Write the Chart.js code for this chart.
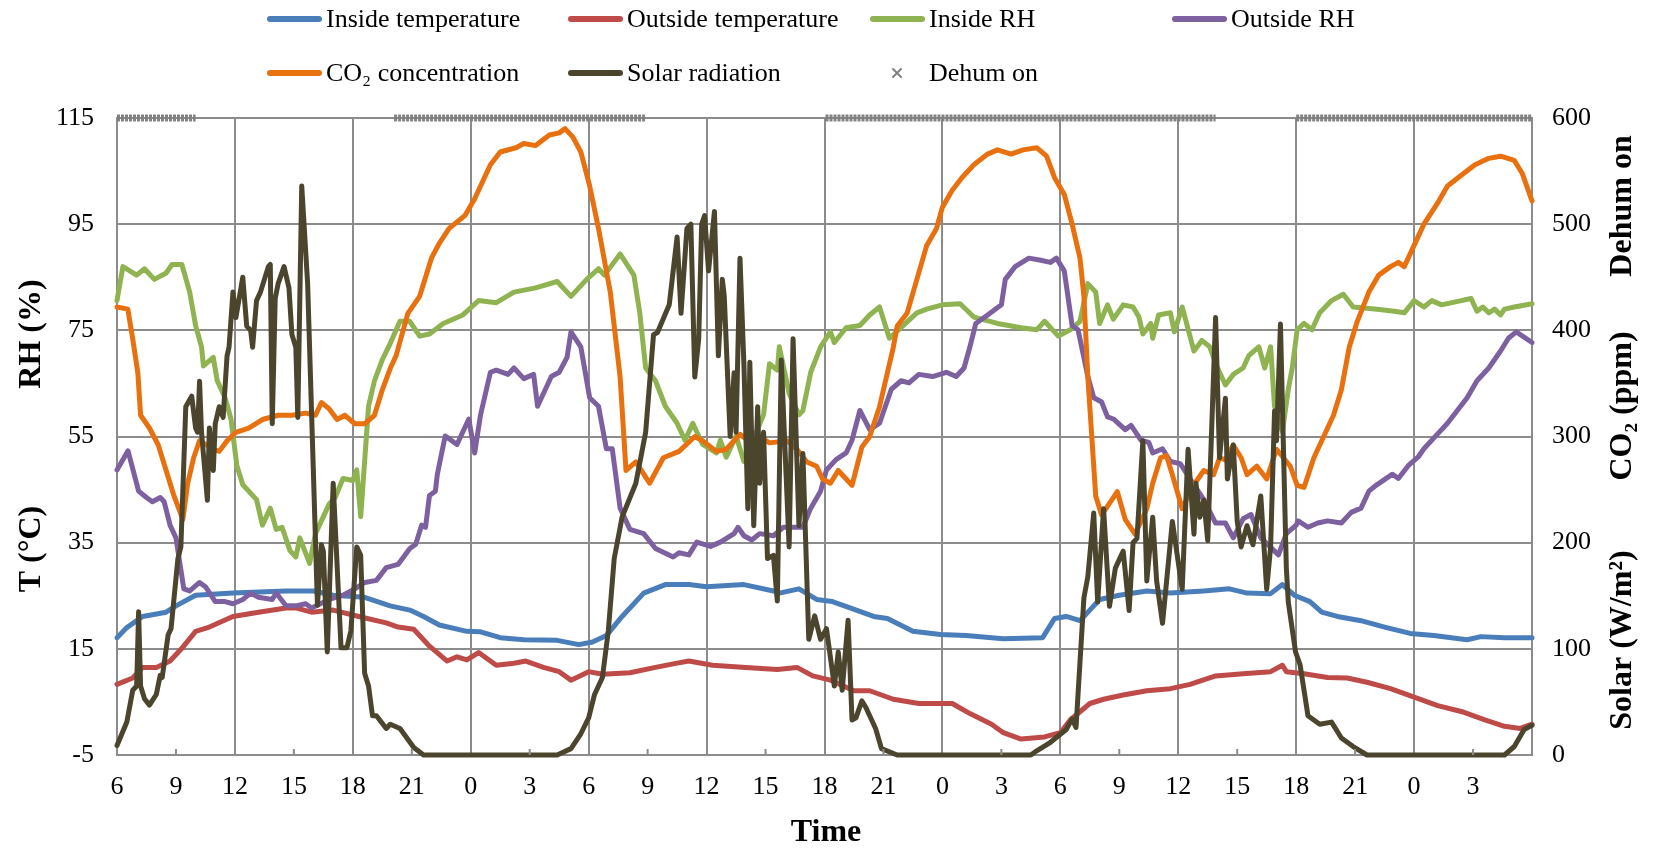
<!DOCTYPE html>
<html>
<head>
<meta charset="utf-8">
<script src="https://cdn.jsdelivr.net/npm/chart.js@4.4.1/dist/chart.umd.min.js"></script>
<style>
  html, body { margin: 0; padding: 0; background: #fff; }
  #wrap { width: 1653px; height: 854px; }
</style>
</head>
<body>
<div id="wrap"><canvas id="chart" width="1653" height="854"></canvas></div>
<script>
// hours since 06:00 on day 1; tick labels are clock hours
const xTickLabels = ['6','9','12','15','18','21','0','3','6','9','12','15','18','21','0','3','6','9','12','15','18','21','0','3'];

const insideTemp = [[0,17.1],[0.5,19],[1.3,21.1],[2.5,21.9],[3,23.1],[4,25.1],[5.9,25.5],[8.6,25.9],[10,25.9],[11,25.1],[12.6,24.7],[13.9,23.1],[14.9,22.3],[15.6,21.1],[16.4,19.5],[17.8,18.3],[18.5,18.2],[19.5,17.1],[20.7,16.7],[22.4,16.6],[23.5,15.8],[24.2,16.3],[24.9,17.5],[25.7,21.1],[26.8,25.5],[27.9,27.1],[29.1,27.1],[30,26.7],[31.9,27.1],[33.4,25.9],[33.7,25.5],[34.7,26.3],[35.6,24.3],[36.4,23.9],[37.3,22.7],[38.5,21.1],[39.2,20.7],[40.5,18.3],[41.9,17.7],[43.2,17.5],[45.1,16.9],[47.1,17.1],[47.7,20.7],[48.3,21.1],[49,20.3],[49.5,22.3],[50,24.3],[51,25.1],[52.4,25.9],[53.6,25.5],[55.3,25.9],[56.6,26.3],[57.5,25.5],[58.7,25.4],[59.3,27.1],[59.9,25.1],[60.7,23.9],[61.3,21.9],[62.1,21.1],[63.3,20.3],[64.5,19.1],[65.8,17.9],[67,17.5],[68.7,16.7],[69.4,17.3],[70.6,17.1],[72,17.1]];

const outsideTemp = [[0,8.3],[0.8,9.5],[1.3,11.5],[2,11.5],[2.7,12.7],[3.3,15.1],[4,18.3],[4.7,19.1],[5.9,21.1],[7.2,21.9],[8.6,22.7],[9.1,22.7],[9.9,21.9],[11,22.3],[12.3,21.1],[13.7,19.9],[14.3,19.1],[15.1,18.7],[15.9,15.5],[16.8,12.7],[17.3,13.5],[17.8,12.9],[18.4,14.3],[19.3,11.9],[20.2,12.3],[20.8,12.7],[21.7,11.5],[22.5,10.7],[23.1,9.1],[24,10.7],[24.7,10.2],[26.1,10.5],[27.4,11.5],[28.5,12.3],[29.1,12.7],[30.3,11.9],[32,11.5],[33.6,11.1],[34.6,11.5],[35.4,9.9],[36.3,9.1],[37.5,7.1],[38.3,7.1],[39.5,5.5],[40.8,4.7],[42.5,4.7],[43.4,2.8],[44.5,0.8],[45.1,-0.8],[46,-2],[47.2,-1.6],[48,-0.8],[48.5,1.6],[49.5,4.7],[50.2,5.5],[51.2,6.3],[52.4,7.1],[53.6,7.5],[54.6,8.3],[55.9,9.9],[57.3,10.3],[58.7,10.7],[59.3,11.9],[59.5,10.7],[60.4,10.3],[61.6,9.6],[62.6,9.5],[63.6,8.7],[64.8,7.5],[66,5.9],[67.2,4.3],[68.4,3.2],[69.6,1.6],[70.6,0.4],[71.4,0],[72,0.8]];

const insideRH = [[0,80.6],[0.3,87],[1,85.4],[1.4,86.6],[1.9,84.6],[2.5,85.8],[2.8,87.4],[3.3,87.4],[3.7,82.2],[4,75.9],[4.3,71.9],[4.4,68.3],[4.9,69.9],[5.1,65.5],[5.5,62.3],[5.8,58.3],[6.1,49.5],[6.4,45.9],[7.1,43.1],[7.4,38.3],[7.8,41.5],[8.1,37.5],[8.4,37.9],[8.8,33.5],[9.1,32.3],[9.3,35.9],[9.8,31.1],[10.1,36.7],[10.8,42.3],[11.1,43.5],[11.5,47.1],[12,46.7],[12.2,48.7],[12.4,39.9],[12.8,60.7],[13.1,65.5],[13.5,69.5],[13.9,72.5],[14.4,76.7],[14.9,76.7],[15.4,73.9],[15.9,74.3],[16.6,76.3],[17.6,77.9],[18.4,80.6],[19.3,80.2],[20.2,82.2],[21.3,83],[22.4,84.2],[23.1,81.4],[23.9,84.6],[24.5,86.6],[24.8,85.4],[25.6,89.4],[26.3,85.4],[26.6,78.3],[26.9,67.9],[27.4,65.5],[27.9,60.7],[28.5,57.5],[28.9,54.3],[29.3,57.5],[29.8,53.5],[30.5,51.9],[30.7,54.3],[31,51.1],[31.5,55.1],[31.9,50.3],[32.9,59.1],[33.2,68.7],[33.6,67.5],[33.7,71.9],[34.2,63.1],[34.7,59.1],[34.9,59.9],[35.3,67.1],[35.8,71.9],[36.3,74.7],[36.5,72.7],[37.1,75.5],[37.8,75.9],[38.3,77.9],[38.8,79.4],[39.3,73.5],[40,75.9],[40.7,78.3],[41.2,79],[42,79.8],[42.9,80],[43.6,77.5],[44.8,76.3],[46,75.5],[46.8,75.1],[47.2,76.7],[47.9,73.9],[48.5,75.1],[49,76.7],[49.4,83.8],[49.8,82.2],[50,76.3],[50.4,79.8],[50.7,77.1],[51.2,79.8],[51.7,79.4],[52,77.5],[52.2,74.3],[52.6,76.3],[52.7,73.5],[53,77.9],[53.6,78.3],[53.8,74.7],[54.2,79.4],[54.8,71.1],[55.2,73.1],[55.6,71.9],[56,67.9],[56.4,64.7],[56.8,66.7],[57.3,67.9],[57.6,70.3],[58.1,71.9],[58.4,67.9],[58.7,71.9],[58.9,60.7],[59.3,55.9],[59.6,63.9],[59.8,67.9],[60.05,75.1],[60.4,76.3],[60.8,75.1],[61.2,78.3],[61.8,80.6],[62.4,81.8],[62.9,79.4],[64,79],[65,78.6],[65.5,78.3],[66,80.6],[66.5,79.4],[66.9,80.6],[67.4,79.8],[68.4,80.6],[68.9,81],[69.2,78.6],[69.5,79.4],[69.8,78.3],[70.1,79],[70.4,77.9],[70.6,79],[71.1,79.4],[72,80]];

const outsideRH = [[0,48.7],[0.56,52.3],[1.1,44.7],[1.5,43.5],[1.8,42.7],[2.2,43.5],[2.4,42.7],[2.7,38.3],[3,35.9],[3.4,26.3],[3.7,25.9],[4.2,27.5],[4.5,26.7],[5,23.9],[5.5,23.9],[5.9,23.5],[6.4,24.3],[6.8,25.5],[7.2,24.7],[7.9,24.3],[8.1,25.5],[8.6,23.1],[9.1,23.1],[9.6,23.5],[9.9,22.7],[10.8,24.3],[11.5,25.1],[12.1,26.3],[12.6,27.5],[13.2,27.9],[13.7,30.3],[14.3,30.9],[14.9,33.9],[15.2,34.7],[15.5,38.3],[15.7,37.9],[15.9,43.9],[16.2,44.7],[16.3,47.9],[16.7,55.1],[17.3,53.5],[17.9,58.3],[18.2,51.9],[18.5,59.1],[19,67.1],[19.3,67.5],[19.9,66.7],[20.2,67.9],[20.7,65.9],[21.2,66.7],[21.4,60.7],[21.8,63.9],[22.1,66.3],[22.5,67.1],[22.9,69.9],[23.1,74.7],[23.6,71.9],[24.05,62.3],[24.5,60.7],[24.9,52.7],[25.2,52.7],[25.6,41.5],[26.1,37.5],[26.8,36.7],[27.4,33.9],[28.3,32.3],[28.6,33.1],[29.1,32.7],[29.5,35.1],[30.2,34.3],[30.7,35.1],[31.4,36.7],[31.6,37.9],[31.9,36.3],[32.3,35.5],[32.7,36.7],[33.4,36.3],[33.9,37.9],[34.9,37.9],[35.3,41.5],[35.8,44.7],[36.1,48.7],[36.6,50.7],[37.1,51.9],[37.4,54.3],[37.8,59.9],[38.3,56.3],[38.8,57.5],[39.4,63.9],[39.9,65.5],[40.3,65.1],[40.8,66.7],[41.5,66.3],[42.2,67.1],[42.7,66.3],[43.1,67.9],[43.4,71.9],[43.7,76.3],[44.3,77.9],[45,79.8],[45.2,84.6],[45.7,87],[46.4,88.6],[47,88.2],[47.5,87.8],[47.8,88.6],[48.2,86.2],[48.6,75.9],[48.9,75.1],[49.4,66.3],[49.7,62.3],[50.1,61.5],[50.4,58.7],[50.7,58.3],[51.3,56.3],[51.6,57.1],[52.1,54.3],[52.5,53.9],[52.7,51.9],[53.2,52.7],[53.6,50.3],[54.1,49.9],[54.8,45.9],[55.3,43.1],[55.9,38.7],[56.4,38.7],[56.8,35.9],[57.3,39.5],[57.7,40.3],[58.2,35.9],[59.1,32.7],[59.5,36.7],[60,38.3],[60.1,39.1],[60.6,37.9],[61.1,38.7],[61.6,39.1],[62.3,38.7],[62.8,40.7],[63.3,41.5],[63.7,44.7],[64.1,45.9],[64.9,47.9],[65.2,47.1],[65.7,49.5],[66.2,51.1],[66.5,52.7],[67.2,55.5],[67.7,57.5],[68.2,59.9],[68.7,62.3],[69.2,65.5],[69.8,67.9],[70.4,71.1],[70.8,73.5],[71.2,74.7],[72,72.7]];

// right axis (ppm)
const co2 = [[0,422],[0.55,420],[0.8,392],[1.06,360],[1.2,320],[1.65,308],[2.1,292],[2.5,268],[2.9,244],[3.35,222],[3.6,256],[3.9,280],[4.2,296],[4.9,288],[5.2,286],[5.6,296],[6.05,304],[6.7,308],[7.4,316],[8.2,320],[8.9,320],[9.6,322],[10.1,320],[10.4,332],[10.8,326],[11.2,316],[11.6,320],[12.1,312],[12.6,312],[13.1,320],[13.5,344],[13.9,364],[14.2,376],[14.8,416],[15.4,432],[16,468],[16.4,482],[16.9,496],[17.7,508],[18.2,524],[19,556],[19.5,568],[20.3,572],[20.7,576],[21.3,574],[22,584],[22.5,586],[22.8,590],[23.2,582],[23.6,568],[24.05,536],[24.5,496],[25.1,436],[25.6,356],[25.9,268],[26.4,276],[27.1,256],[27.8,280],[28.6,286],[29.4,300],[29.8,296],[30.5,286],[31,288],[31.4,296],[31.7,302],[32,298],[32.7,300],[33.2,294],[34.1,296],[34.6,288],[35.1,276],[35.6,272],[35.9,260],[36.3,256],[36.7,268],[37.1,260],[37.4,254],[37.9,290],[38.3,300],[38.8,328],[39.2,360],[39.5,384],[39.7,404],[40.2,416],[40.7,448],[41.2,480],[41.7,496],[42,516],[42.5,532],[43,544],[43.6,556],[44.3,566],[44.8,570],[45.5,566],[46.1,570],[46.8,572],[47.3,564],[47.7,544],[48.2,528],[48.6,500],[49,468],[49.2,432],[49.4,356],[49.8,244],[50.1,226],[50.9,248],[51.3,222],[51.8,208],[52.4,232],[52.7,256],[53.1,280],[53.4,282],[53.7,264],[54.2,232],[54.7,252],[55.3,268],[55.8,264],[56.1,280],[56.4,278],[56.8,292],[57.2,280],[57.5,264],[58,272],[58.5,260],[59,288],[59.7,272],[60.05,254],[60.4,252],[60.9,280],[61.4,300],[61.9,320],[62.3,344],[62.7,384],[63.1,408],[63.7,436],[64.2,452],[64.8,460],[65.2,464],[65.5,460],[66,480],[66.5,500],[67.2,520],[67.7,536],[68.4,546],[69.1,556],[69.8,562],[70.4,564],[71.1,560],[71.5,548],[72,522]];

// right axis (W/m2)
const solar = [[0,9],[0.5,31],[0.8,61],[1,65],[1.1,135],[1.2,65],[1.4,53],[1.65,47],[2,57],[2.2,75],[2.3,73],[2.6,113],[2.75,119],[3.1,185],[3.25,196],[3.5,328],[3.8,338],[4,308],[4.1,304],[4.2,352],[4.3,304],[4.6,240],[4.7,308],[4.9,268],[5,312],[5.2,328],[5.4,318],[5.6,376],[5.7,384],[5.9,436],[6.05,412],[6.4,450],[6.6,404],[6.8,400],[6.9,384],[7.1,428],[7.3,436],[7.7,460],[7.8,462],[7.9,312],[8.05,430],[8.2,444],[8.5,460],[8.75,440],[8.9,396],[9.1,384],[9.2,318],[9.4,536],[9.7,444],[10.2,141],[10.4,198],[10.5,192],[10.7,97],[11,256],[11.4,101],[11.7,101],[11.9,117],[12.2,196],[12.4,188],[12.6,77],[12.8,65],[13,37],[13.2,37],[13.7,25],[13.9,29],[14.4,25],[15.1,7],[15.6,0],[22.4,0],[23.1,6],[23.6,20],[24,35],[24.3,57],[24.7,73],[25,117],[25.3,185],[25.7,224],[26.4,256],[26.9,304],[27.3,396],[27.5,398],[28.1,424],[28.5,488],[28.7,416],[29,496],[29.2,500],[29.4,356],[29.6,392],[29.75,500],[29.9,508],[30.1,456],[30.4,512],[30.6,376],[30.8,448],[30.9,432],[31.2,300],[31.4,360],[31.5,304],[31.7,468],[31.9,368],[32.1,232],[32.2,370],[32.4,216],[32.6,328],[32.7,256],[32.9,304],[33.1,185],[33.4,188],[33.6,145],[33.8,372],[34.2,196],[34.4,392],[34.7,216],[34.9,284],[35.2,109],[35.5,131],[35.8,109],[36.1,119],[36.5,65],[36.7,97],[36.9,61],[37.2,127],[37.4,33],[37.6,35],[37.9,51],[38.1,45],[38.6,25],[38.9,6],[39.7,0],[46.5,0],[46.8,4],[47.5,12],[48.3,24],[48.6,34],[48.8,26],[48.9,57],[49.2,148],[49.4,168],[49.7,228],[49.9,144],[50.2,232],[50.5,140],[50.8,176],[51.2,192],[51.5,136],[51.7,200],[51.9,204],[52.2,296],[52.4,164],[52.7,224],[52.9,164],[53.2,124],[53.7,220],[54.2,156],[54.5,288],[54.8,208],[54.9,256],[55.1,224],[55.3,240],[55.5,202],[55.9,412],[56.1,280],[56.4,336],[56.5,260],[56.8,292],[57,220],[57.2,196],[57.5,216],[57.8,198],[58.2,244],[58.5,156],[58.7,196],[58.9,324],[59,296],[59.2,406],[59.5,176],[59.6,144],[59.97,97],[60.2,85],[60.6,37],[61.2,29],[61.8,31],[62.3,16],[62.9,8],[63.6,0],[70.6,0],[71.1,8],[71.6,24],[72,28]];

// dehumidifier on: [start hour, end hour]
const dehumOnPeriods = [[0,4.0],[14.1,26.9],[36.05,55.9],[60,72]];

const GRID = '#8c8c8c';
const FONT = '"Liberation Serif", "Times New Roman", serif';

const toXY = arr => arr.map(([x, y]) => ({ x, y }));
const dehumPoints = [];
dehumOnPeriods.forEach(([s, e]) => {
  dehumPoints.push({ x: s, y: 600 }, { x: e, y: 600 }, { x: e + 0.001, y: null });
});

function lineSet(label, data, color, axis, order) {
  return {
    label, data: toXY(data), borderColor: color, backgroundColor: color,
    borderWidth: 5, yAxisID: axis, order, clip: false, spanGaps: false,
  };
}

const overlay = {
  id: 'overlay',
  afterDraw(chart) {
    const ctx = chart.ctx;
    const xs = chart.scales.x;
    const area = chart.chartArea;
    ctx.save();

    // small inside tick marks between the 6-hour gridlines
    ctx.strokeStyle = GRID;
    ctx.lineWidth = 2;
    xs.ticks.forEach(t => {
      if (t.value % 6 !== 0) {
        const px = xs.getPixelForValue(t.value);
        ctx.beginPath();
        ctx.moveTo(px, area.bottom);
        ctx.lineTo(px, area.bottom - 6);
        ctx.stroke();
      }
    });

    // axis titles
    ctx.fillStyle = '#000';
    ctx.font = 'bold 32px ' + FONT;
    ctx.textAlign = 'center';
    ctx.textBaseline = 'middle';
    ctx.fillText('Time', 826, 833);
    const vtext = (txt, x, y) => {
      ctx.save();
      ctx.translate(x, y);
      ctx.rotate(-Math.PI / 2);
      ctx.fillText(txt, 0, 0);
      ctx.restore();
    };
    vtext('RH (%)', 32, 334);
    vtext('T (°C)', 32, 549);
    vtext('Dehum on', 1623, 206);
    vtext('CO₂ (ppm)', 1623, 406);
    vtext('Solar (W/m²)', 1623, 640);

    // legend
    const ds = chart.data.datasets;
    const items = [
      { i: 0, x: 267, y: 19 }, { i: 1, x: 568, y: 19 }, { i: 2, x: 870, y: 19 }, { i: 3, x: 1172, y: 19 },
      { i: 4, x: 267, y: 73 }, { i: 5, x: 568, y: 73 }, { i: 6, x: 870, y: 73 },
    ];
    ctx.font = '26px ' + FONT;
    ctx.textAlign = 'left';
    ctx.lineCap = 'round';
    items.forEach(it => {
      const d = ds[it.i];
      if (d.label === 'Dehum on') {
        ctx.strokeStyle = '#808080';
        ctx.lineWidth = 2;
        const cx = 897, cy = it.y, r = 4;
        ctx.beginPath();
        ctx.moveTo(cx - r, cy - r); ctx.lineTo(cx + r, cy + r);
        ctx.moveTo(cx + r, cy - r); ctx.lineTo(cx - r, cy + r);
        ctx.stroke();
      } else {
        ctx.strokeStyle = d.borderColor;
        ctx.lineWidth = 6;
        ctx.beginPath();
        ctx.moveTo(it.x + 3, it.y);
        ctx.lineTo(it.x + 52, it.y);
        ctx.stroke();
      }
      ctx.fillStyle = '#000';
      ctx.fillText(d.label, it.x + 59, it.y + 1);
    });
    ctx.restore();
  }
};

Chart.defaults.font.family = FONT;

new Chart(document.getElementById('chart'), {
  type: 'line',
  data: {
    datasets: [
      lineSet('Inside temperature', insideTemp, '#4a7ebb', 'y', 6),
      lineSet('Outside temperature', outsideTemp, '#be4b48', 'y', 5),
      lineSet('Inside RH', insideRH, '#8eb350', 'y', 4),
      lineSet('Outside RH', outsideRH, '#7d60a0', 'y', 3),
      lineSet('CO₂ concentration', co2, '#e8700f', 'y2', 2),
      lineSet('Solar radiation', solar, '#4a452c', 'y2', 1),
      {
        label: 'Dehum on', data: dehumPoints, yAxisID: 'y2', order: 0, clip: false,
        borderColor: 'rgba(125,125,125,0.95)', borderWidth: 7, borderDash: [3, 1],
        borderCapStyle: 'butt', spanGaps: false,
      },
    ],
  },
  options: {
    responsive: false,
    animation: false,
    devicePixelRatio: 1,
    layout: { padding: { top: 118, left: 0, right: 0, bottom: 0 } },
    plugins: { legend: { display: false }, tooltip: { enabled: false } },
    elements: {
      point: { radius: 0, hoverRadius: 0 },
      line: { tension: 0, borderCapStyle: 'round', borderJoinStyle: 'round' },
    },
    scales: {
      x: {
        type: 'linear', min: 0, max: 72,
        afterFit: s => { s.height = 99; },
        ticks: {
          stepSize: 3, autoSkip: false, maxRotation: 0, padding: 17, color: '#000',
          font: { size: 26, family: FONT },
          callback: (v, i) => xTickLabels[i] ?? '',
        },
        grid: {
          color: c => (c.tick && c.tick.value % 6 === 0) ? GRID : 'rgba(0,0,0,0)',
          lineWidth: 2, drawTicks: false,
        },
        border: { color: GRID, width: 2 },
      },
      y: {
        position: 'left', min: -5, max: 115,
        afterFit: s => { s.width = 117; },
        ticks: { stepSize: 20, padding: 23, color: '#000', font: { size: 26, family: FONT } },
        grid: { color: GRID, lineWidth: 2, drawTicks: false },
        border: { color: GRID, width: 2 },
      },
      y2: {
        position: 'right', min: 0, max: 600,
        afterFit: s => { s.width = 121; },
        ticks: { stepSize: 100, padding: 20, color: '#000', font: { size: 26, family: FONT } },
        grid: { drawOnChartArea: false, drawTicks: false },
        border: { color: GRID, width: 2 },
      },
    },
  },
  plugins: [overlay],
});
</script>
</body>
</html>
